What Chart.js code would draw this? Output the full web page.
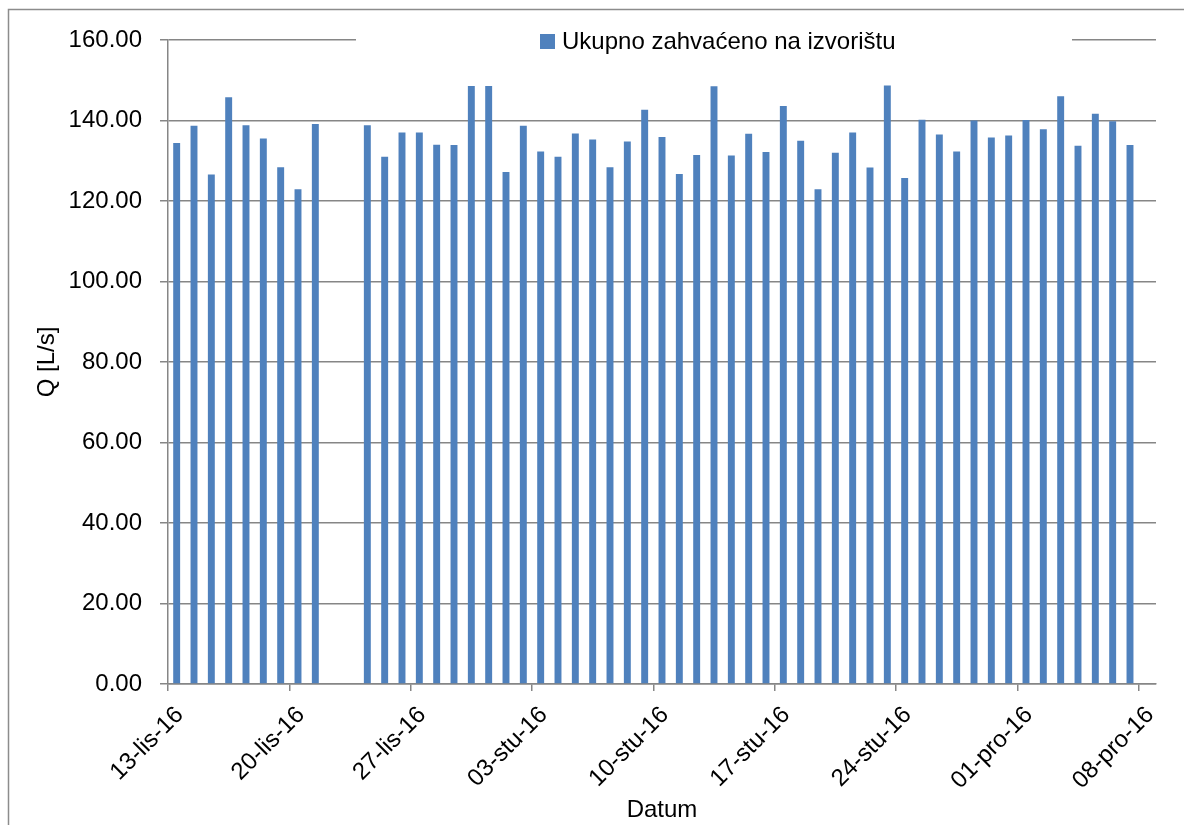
<!DOCTYPE html>
<html>
<head>
<meta charset="utf-8">
<script src="https://cdn.jsdelivr.net/npm/chart.js@4.4.1/dist/chart.umd.min.js"></script>
<style>
  html, body { margin: 0; padding: 0; background: #fff; }
  #wrap { width: 1184px; height: 825px; }
</style>
</head>
<body>
<div id="wrap"><canvas id="chart" width="1184" height="825"></canvas></div>
<script>
// ---------- Daten ----------
const days = [
  '13-lis-16','14-lis-16','15-lis-16','16-lis-16','17-lis-16','18-lis-16','19-lis-16','20-lis-16','21-lis-16','22-lis-16',
  '23-lis-16','24-lis-16','25-lis-16','26-lis-16','27-lis-16','28-lis-16','29-lis-16','30-lis-16','31-lis-16',
  '01-stu-16','02-stu-16','03-stu-16','04-stu-16','05-stu-16','06-stu-16','07-stu-16','08-stu-16','09-stu-16','10-stu-16',
  '11-stu-16','12-stu-16','13-stu-16','14-stu-16','15-stu-16','16-stu-16','17-stu-16','18-stu-16','19-stu-16','20-stu-16',
  '21-stu-16','22-stu-16','23-stu-16','24-stu-16','25-stu-16','26-stu-16','27-stu-16','28-stu-16','29-stu-16','30-stu-16',
  '01-pro-16','02-pro-16','03-pro-16','04-pro-16','05-pro-16','06-pro-16','07-pro-16','08-pro-16'
];
const octValues = [134.4,138.7,126.6,145.8,138.8,135.5,128.4,122.9,139.1,null,null,138.8,131.0,137.0,137.0,134.0,133.9,148.6,148.6];
const novValues = [127.2,138.7,132.3,131.0,136.8,135.3,128.4,134.8,142.7,135.9,126.7,131.4,148.5,131.3,136.7,
                   132.2,143.6,135.0,122.9,132.0,137.0,128.3,148.7,125.7,140.2,136.5,132.3,140.0,135.8,136.3];
const decValues = [140.1,137.8,146.0,133.7,141.7,139.8,133.9,null];
const values = octValues.concat(novValues, decValues);
const seriesLabel = 'Ukupno zahvaćeno na izvorištu';
const tickEvery = 7;

const FONT = 'Liberation Sans';
const AXIS = '#868686';

// Rahmen und Legende wie im Original
const frame = {
  id: 'frame',
  beforeDraw(chart){
    const c = chart.ctx; c.save();
    c.strokeStyle = '#8c8c8c'; c.lineWidth = 1.5;
    c.strokeRect(8.5, 9.5, 1400, 1000);
    c.restore();
  }
};
const legendBox = {
  id: 'legendBox',
  afterDraw(chart){
    const c = chart.ctx, ds = chart.data.datasets[0];
    c.save();
    c.fillStyle = '#fff'; c.fillRect(356, 28, 716, 26);
    c.fillStyle = ds.backgroundColor; c.fillRect(540, 34, 15, 15);
    c.fillStyle = '#000'; c.font = '24px "' + FONT + '"'; c.textBaseline = 'middle';
    c.fillText(ds.label, 562, 42);
    c.restore();
  }
};

new Chart(document.getElementById('chart').getContext('2d'), {
  type: 'bar',
  data: { labels: days, datasets: [{ label: seriesLabel, data: values, backgroundColor: '#4F81BD', categoryPercentage: 1, barPercentage: 0.4 }] },
  options: {
    responsive: false, animation: false,
    layout: { padding: { left: 20, right: 28, top: 40, bottom: 0 } },
    plugins: { legend: { display: false }, tooltip: { enabled: false } },
    scales: {
      x: {
        offset: true,
        grid: { offset: true, drawOnChartArea: false, tickLength: 7, lineWidth: 1.5,
                color: ctx => (ctx.index % tickEvery === 0 ? AXIS : 'rgba(0,0,0,0)') },
        border: { color: AXIS, width: 1.5 },
        ticks: { autoSkip: false, minRotation: 45, maxRotation: 45, labelOffset: 3, padding: 10, color: '#000',
                 font: { family: FONT, size: 24 }, callback: (v, i) => (i % tickEvery === 0 ? days[i] : '') },
        title: { display: true, text: 'Datum', color: '#000', font: { family: FONT, size: 24 }, padding: { top: 0, bottom: 0 } },
        afterFit: s => { s.height = 141; }
      },
      y: {
        min: 0, max: 160,
        grid: { color: AXIS, lineWidth: 1.5, tickLength: 8 },
        border: { color: AXIS, width: 1.5 },
        ticks: { stepSize: 20, padding: 18, color: '#000', font: { family: FONT, size: 24 }, callback: v => v.toFixed(2) },
        title: { display: true, text: 'Q [L/s]', color: '#000', font: { family: FONT, size: 24 }, padding: { top: 13, bottom: 0 } },
        afterFit: s => { s.width = 148; }
      }
    }
  },
  plugins: [frame, legendBox]
});
</script>
</body>
</html>
